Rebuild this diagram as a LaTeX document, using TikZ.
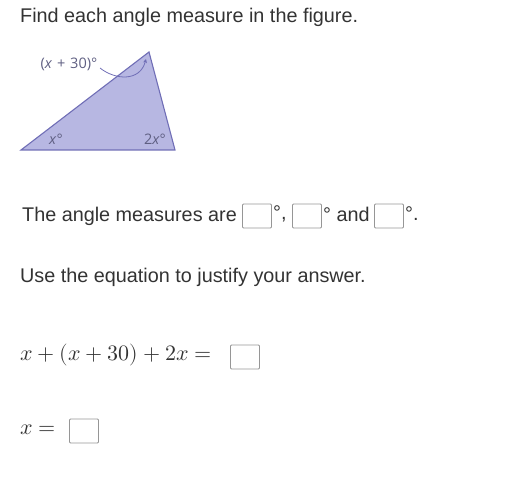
\documentclass[tikz,border=0pt]{standalone}
\usepackage{fontspec}
\setmainfont{Liberation Sans}
\newfontfamily\figfont{Open Sans}
\usepackage{unicode-math}
\setmathfont{Latin Modern Math}
\usetikzlibrary{arrows.meta}
\definecolor{txt}{RGB}{51,51,51}
\definecolor{trifill}{RGB}{183,183,226}
\definecolor{triedge}{RGB}{112,110,182}
\definecolor{lbl}{RGB}{95,95,130}
\definecolor{boxc}{RGB}{150,150,150}
\tikzset{
  ansbox/.style={draw=boxc, line width=0.8pt, minimum width=29pt, minimum height=24pt, inner sep=0pt, rounded corners=1pt},
  body/.style={font=\fontsize{19.8}{22}\selectfont, text=txt, inner sep=0pt, anchor=west},
  lab/.style={font=\figfont\fontsize{14.5}{16}\selectfont, text=lbl, inner sep=0pt},
  mth/.style={font=\fontsize{22}{26}\selectfont, text=txt, inner sep=0pt, anchor=west}
}
\begin{document}
\begin{tikzpicture}[x=1pt,y=-1pt]
\useasboundingbox (0,0) rectangle (527,489);
\node[body] (t1) at (20,17) {Find each angle measure in the figure.};
% triangle
\coordinate (A) at (21,150);
\coordinate (B) at (149,52);
\coordinate (C) at (175,150);
\draw[fill=trifill, draw=triedge, line width=1.1pt, line join=miter] (A) -- (B) -- (C) -- cycle;
\node[lab] (l1) at (69,64) {(\textit{x}\,\,+\,\,30)°};
\node[lab] (l2) at (56,139) {\textit{x}°};
\node[lab] (l3) at (155,139) {2\textit{x}°};
\coordinate (arrS) at (100,68);
\coordinate (arrE) at (146,59);
\draw[triedge, line width=0.8pt, -{Stealth[length=4pt,width=4pt]}] (arrS) .. controls (115,80) and (140,82) .. (arrE);
% answer line
\node[body] (t2) at (22,216) {The angle measures are};
\node[ansbox] (b1) at (257,216) {};
\node[body] (d1) at (273,214) {°,};
\node[ansbox] (b2) at (307,216) {};
\node[body] (d2) at (323,214) {° and};
\node[ansbox] (b3) at (389,216) {};
\node[body] (d3) at (405,214) {°.};
\node[body] (t3) at (20,277) {Use the equation to justify your answer.};
\node[mth] (e1) at (20,355) {$x+\left(x+30\right)+2x=$};
\node[ansbox] (b4) at (245,357) {};
\node[mth] (e2) at (20,430) {$x=$};
\node[ansbox] (b5) at (84,431) {};
\end{tikzpicture}
\end{document}
